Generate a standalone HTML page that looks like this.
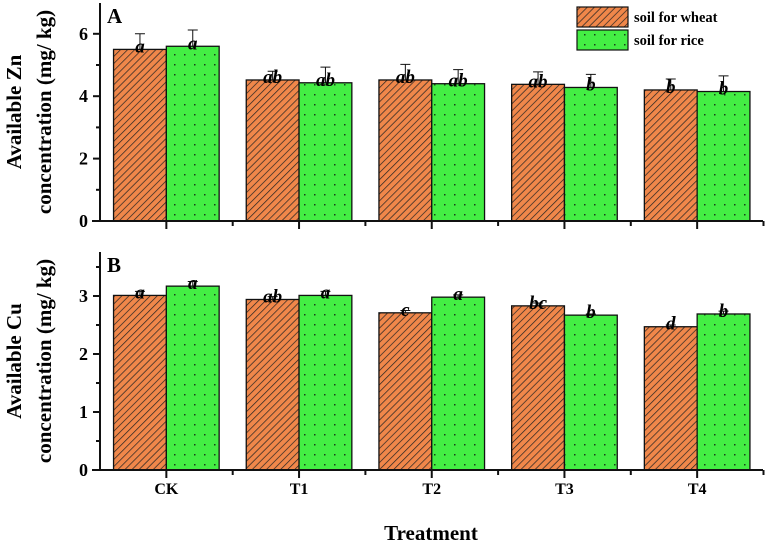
<!DOCTYPE html>
<html><head><meta charset="utf-8"><style>
body{margin:0;background:#fff}
svg{font-family:"Liberation Serif",serif;font-weight:bold}
</style></head><body>
<svg id="c" width="767" height="543" viewBox="0 0 767 543" xmlns="http://www.w3.org/2000/svg">
<defs>
<pattern id="hatch" width="5" height="5" patternUnits="userSpaceOnUse" patternTransform="rotate(45)">
<rect width="5" height="5" fill="#f0874a"/><line x1="0" y1="0" x2="0" y2="5" stroke="#222" stroke-width="1.4"/>
</pattern>
<pattern id="dots" width="10" height="10" patternUnits="userSpaceOnUse">
<rect width="10" height="10" fill="#44ee44"/><rect x="4" y="4" width="1.5" height="1.5" fill="#1a401a"/>
</pattern>
</defs>
<g id="g"></g>
</svg>
<script>
const categories=["CK","T1","T2","T3","T4"];
const znWheat=[5.5,4.52,4.52,4.38,4.2];
const znRice=[5.6,4.43,4.4,4.28,4.15];
const znWheatErr=[0.5,0.28,0.5,0.4,0.35];
const znRiceErr=[0.52,0.5,0.45,0.42,0.5];
const znWheatLbl=["a","ab","ab","ab","b"];
const znRiceLbl=["a","ab","ab","b","b"];
const cuWheat=[3.01,2.94,2.71,2.83,2.47];
const cuRice=[3.17,3.01,2.98,2.67,2.69];
const cuWheatErr=[0.07,0.05,0.04,0.05,0.03];
const cuRiceErr=[0.08,0.07,0.04,0.02,0.05];
const cuWheatLbl=["a","ab","c","bc","d"];
const cuRiceLbl=["a","a","a","b","b"];
const znTicks=[0,2,4,6];
const cuTicks=[0,1,2,3];

const NS="http://www.w3.org/2000/svg";
const g=document.getElementById('g');
function el(t,a,txt){const e=document.createElementNS(NS,t);for(const k in a)e.setAttribute(k,a[k]);if(txt!=null)e.textContent=txt;g.appendChild(e);return e;}
const X0=100,X1=763,step=132.7,bw=52.8;
const xc=i=>X0+step*(i+0.5);

function panel(p){
  const y=v=>p.y0-(v-0)*p.ppu;
  categories.forEach((c,i)=>{
    [[p.w,p.we,p.wl,"url(#hatch)",-1,"wheat"],[p.r,p.re,p.rl,"url(#dots)",0,"rice"]].forEach(s=>{
      const v=s[0][i],x=xc(i)+s[4]*bw;
      const r=el('rect',{x:x,y:y(v),width:bw,height:p.y0-y(v),fill:s[3],stroke:"#111","stroke-width":1.3});
      
      
      const ex=x+bw/2, et=y(v+s[1][i]);
      const e=el('path',{d:`M${ex} ${y(v)}V${et}M${ex-5} ${et}H${ex+5}`,stroke:"#111","stroke-width":1,fill:"none"});
      
      
      const t=el('text',{x:ex,y:y(v)+3,"text-anchor":"middle","font-size":19,"font-style":"italic"},s[2][i]);
      
      
    });
  });
  const ax=el('path',{d:`M${X0} ${p.top}V${p.y0+1}M${X0-8} ${p.y0}H${X1}`,stroke:"#111","stroke-width":2,fill:"none"});
  
  
  p.ticks.forEach(v=>{
    el('line',{x1:X0-7,x2:X0,y1:y(v),y2:y(v),stroke:"#111","stroke-width":2});
    const t=el('text',{x:X0-12,y:y(v)+6,"text-anchor":"end","font-size":18},v);
    
    
  });
  for(let k=0;k<p.ticks.length;k++){const v=p.ticks[k]+p.minor; if(y(v)>p.top)el('line',{x1:X0-4,x2:X0,y1:y(v),y2:y(v),stroke:"#111","stroke-width":2});}
  categories.forEach((c,i)=>{
    el('line',{x1:xc(i),x2:xc(i),y1:p.y0,y2:p.y0+8,stroke:"#111","stroke-width":2});
    el('line',{x1:xc(i)+step/2,x2:xc(i)+step/2,y1:p.y0,y2:p.y0+5,stroke:"#111","stroke-width":2});
  });
  const L=el('text',{x:107,y:p.top+20,"font-size":21},p.letter);
  
  
  const cy=(p.top+p.y0)/2;
  const t1=el('text',{x:0,y:0,"text-anchor":"middle","font-size":21,transform:`translate(21 ${cy}) rotate(-90)`},p.l1);
  
  
  const t2=el('text',{x:0,y:0,"text-anchor":"middle","font-size":21,transform:`translate(51 ${cy}) rotate(-90)`},"concentration (mg/ kg)");
  
  
}
panel({id:"zn",y0:221,ppu:31.2,top:3,w:znWheat,r:znRice,we:znWheatErr,re:znRiceErr,wl:znWheatLbl,rl:znRiceLbl,ticks:znTicks,minor:1,letter:"A",l1:"Available Zn"});
panel({id:"cu",y0:470,ppu:58,top:252,w:cuWheat,r:cuRice,we:cuWheatErr,re:cuRiceErr,wl:cuWheatLbl,rl:cuRiceLbl,ticks:cuTicks,minor:0.5,letter:"B",l1:"Available Cu"});
categories.forEach((c,i)=>{
  const t=el('text',{x:xc(i),y:494,"text-anchor":"middle","font-size":16},c);
  
  
});
const xt=el('text',{x:431,y:540,"text-anchor":"middle","font-size":21},"Treatment");


[["url(#hatch)","soil for wheat",7],["url(#dots)","soil for rice",30]].forEach((s,k)=>{
  const r=el('rect',{x:577,y:s[2],width:51,height:20,fill:s[0],stroke:"#111","stroke-width":1.2});
  
  
  const t=el('text',{x:634,y:s[2]+15,"font-size":14.5},s[1]);
  
  
});
</script>
</body></html>
